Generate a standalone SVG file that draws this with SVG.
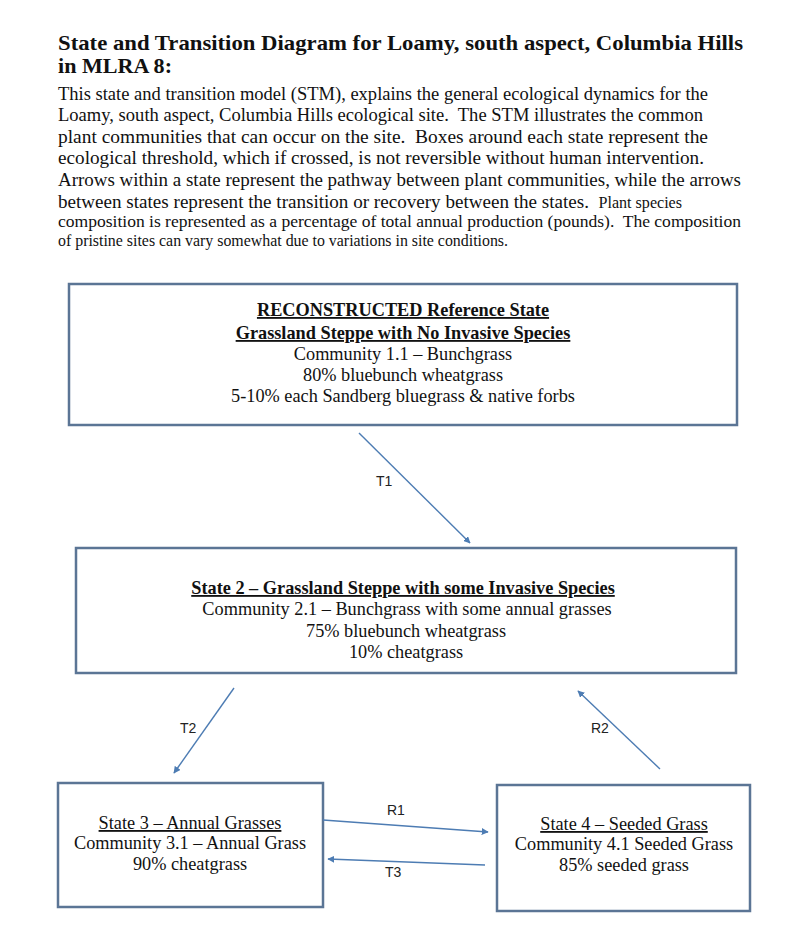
<svg xmlns="http://www.w3.org/2000/svg" width="800" height="950" viewBox="0 0 800 950">
<style>
.title{font-family:"Liberation Serif","Times New Roman",serif;font-weight:bold;font-size:21px;fill:#111}
.body{font-family:"Liberation Serif","Times New Roman",serif;font-size:19px;fill:#111}
.small{font-size:16px}
.box{fill:#fff;stroke:#5b7595;stroke-width:2.5}
.bt{font-family:"Liberation Serif","Times New Roman",serif;font-size:18.3px;fill:#111;text-anchor:middle}
.bh{font-weight:bold;text-decoration:underline}
.ul{text-decoration:underline}
.lbl{font-family:"Liberation Sans",Arial,sans-serif;font-size:14px;fill:#222}
.arr{stroke:#4d7cb3;stroke-width:1.4;fill:none;marker-end:url(#ah)}
</style>
<defs>
<marker id="ah" viewBox="0 0 10 10" refX="9" refY="5" markerWidth="7" markerHeight="7" markerUnits="userSpaceOnUse" orient="auto">
<path d="M0,0 L10,5 L0,10 z" fill="#4d7cb3"/>
</marker>
</defs>
<rect width="800" height="950" fill="#fff"/>
<g id="header">
<text class="title" x="58" y="50" textLength="685" lengthAdjust="spacingAndGlyphs">State and Transition Diagram for Loamy, south aspect, Columbia Hills</text>
<text class="title" x="58" y="73" textLength="114" lengthAdjust="spacingAndGlyphs">in MLRA 8:</text>
<text class="body" x="58" y="100" textLength="650" lengthAdjust="spacingAndGlyphs">This state and transition model (STM), explains the general ecological dynamics for the</text>
<text class="body" x="58" y="121" textLength="645" lengthAdjust="spacingAndGlyphs">Loamy, south aspect, Columbia Hills ecological site.&#160; The STM illustrates the common</text>
<text class="body" x="58" y="143" textLength="650" lengthAdjust="spacingAndGlyphs">plant communities that can occur on the site.&#160; Boxes around each state represent the</text>
<text class="body" x="58" y="164" textLength="646" lengthAdjust="spacingAndGlyphs">ecological threshold, which if crossed, is not reversible without human intervention.</text>
<text class="body" x="58" y="186" textLength="683" lengthAdjust="spacingAndGlyphs">Arrows within a state represent the pathway between plant communities, while the arrows</text>
<text class="body" x="58" y="208" textLength="624" lengthAdjust="spacingAndGlyphs">between states represent the transition or recovery between the states.&#160; <tspan class="small">Plant species</tspan></text>
<text class="body small" x="58" y="227" textLength="683" lengthAdjust="spacingAndGlyphs">composition is represented as a percentage of total annual production (pounds).&#160; The composition</text>
<text class="body small" x="58" y="246" textLength="450" lengthAdjust="spacingAndGlyphs">of pristine sites can vary somewhat due to variations in site conditions.</text>
</g>
<g id="state1">
<rect class="box" x="69" y="284" width="668" height="141"/>
<text class="bt bh" x="403" y="316">RECONSTRUCTED Reference State</text>
<text class="bt bh" x="403" y="339">Grassland Steppe with No Invasive Species</text>
<text class="bt" x="403" y="360">Community 1.1 – Bunchgrass</text>
<text class="bt" x="403" y="381">80% bluebunch wheatgrass</text>
<text class="bt" x="403" y="402">5-10% each Sandberg bluegrass &amp; native forbs</text>
</g>
<g id="state2">
<rect class="box" x="76" y="548" width="660" height="125"/>
<text class="bt bh" x="403" y="594">State 2 – Grassland Steppe with some Invasive Species</text>
<text class="bt" x="407" y="615">Community 2.1 – Bunchgrass with some annual grasses</text>
<text class="bt" x="406" y="637">75% bluebunch wheatgrass</text>
<text class="bt" x="406" y="658">10% cheatgrass</text>
</g>
<g id="state3">
<rect class="box" x="58" y="783" width="265" height="124"/>
<text class="bt ul" x="190" y="829">State 3 – Annual Grasses</text>
<text class="bt" x="190" y="849">Community 3.1 – Annual Grass</text>
<text class="bt" x="190" y="870">90% cheatgrass</text>
</g>
<g id="state4">
<rect class="box" x="497" y="785" width="253" height="126"/>
<text class="bt ul" x="624" y="830">State 4 – Seeded Grass</text>
<text class="bt" x="624" y="850">Community 4.1 Seeded Grass</text>
<text class="bt" x="624" y="871">85% seeded grass</text>
</g>
<g id="connectors">
<line class="arr" x1="359" y1="433" x2="470" y2="543"/>
<line class="arr" x1="234" y1="688" x2="174" y2="773"/>
<line class="arr" x1="660" y1="769" x2="578" y2="691"/>
<line class="arr" x1="323" y1="820" x2="488" y2="832"/>
<line class="arr" x1="485" y1="865" x2="328" y2="859"/>
<text class="lbl" x="376" y="486">T1</text>
<text class="lbl" x="180" y="733">T2</text>
<text class="lbl" x="591" y="733">R2</text>
<text class="lbl" x="387" y="815">R1</text>
<text class="lbl" x="385" y="877">T3</text>
</g>
</svg>
